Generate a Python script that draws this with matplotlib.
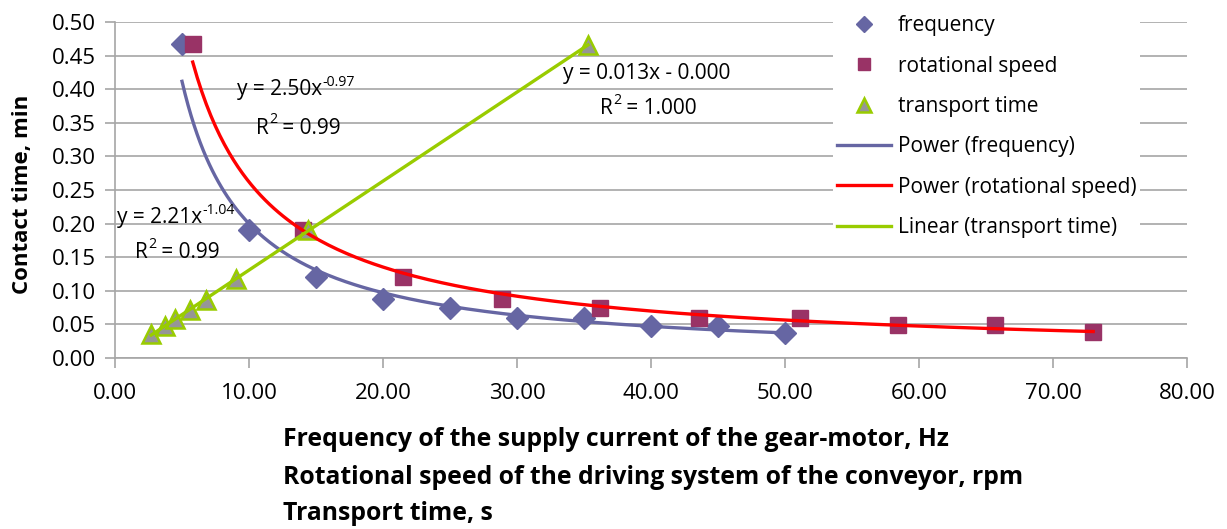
import numpy as np
import matplotlib
matplotlib.use("Agg")
import matplotlib.pyplot as plt

plt.rcParams['font.family'] = ['Open Sans', 'DejaVu Sans']

# frequency of the supply current, Hz
freq_x = [5, 10, 15, 20, 25, 30, 35, 40, 45, 50]
freq_y = [0.467, 0.19, 0.12, 0.088, 0.075, 0.059, 0.059, 0.047, 0.048, 0.037]

# rotational speed of the driving system, rpm
rot_x = [5.8, 14.0, 21.5, 28.9, 36.2, 43.6, 51.1, 58.4, 65.7, 73.0]
rot_y = [0.467, 0.19, 0.12, 0.088, 0.075, 0.06, 0.06, 0.049, 0.049, 0.038]

# transport time, s
tr_x = [2.7, 3.7, 4.5, 5.6, 6.8, 9.0, 14.4, 35.3]
tr_y = [0.036, 0.048, 0.058, 0.072, 0.086, 0.117, 0.19, 0.466]

x_ticks = np.arange(0, 81, 10)
y_ticks = np.arange(0, 0.501, 0.05)

c_freq = '#6666A3'
c_rot = '#993366'
c_red = '#FF0000'
c_green = '#99CC00'
c_grid = '#A6A6A6'

fig = plt.figure(figsize=(12.27, 5.29), dpi=100)
ax = fig.add_axes([115 / 1227, 1 - 358 / 529, (1187 - 115) / 1227, 336 / 529])

ax.set_xlim(0, 80)
ax.set_ylim(0, 0.5)
ax.set_xticks(x_ticks)
ax.set_yticks(y_ticks)
ax.set_xticklabels([f'{v:.2f}' for v in x_ticks])
ax.set_yticklabels([f'{v:.2f}' for v in y_ticks])
ax.yaxis.grid(True, color=c_grid, lw=1.2)
ax.set_axisbelow(True)
for s in ['top', 'right']:
    ax.spines[s].set_visible(False)
for s in ['left', 'bottom']:
    ax.spines[s].set_color(c_grid)
    ax.spines[s].set_linewidth(1.2)
ax.tick_params(axis='both', colors=c_grid, length=7, width=1.2, labelsize=16,
               labelcolor='black')
ax.tick_params(axis='x', pad=11)
ax.tick_params(axis='y', pad=7)

# markers
ax.plot(freq_x, freq_y, 'D', color=c_freq, ms=11, ls='none', label='frequency', zorder=3)
ax.plot(rot_x, rot_y, 's', color=c_rot, ms=12, ls='none', label='rotational speed', zorder=3)
ax.plot(tr_x, tr_y, '^', mfc='#969696', mec=c_green, mew=1.8, ms=13, ls='none',
        label='transport time', zorder=3)

# trend lines (fitted from the points)
b1, a1 = np.polyfit(np.log(freq_x), np.log(freq_y), 1)
xs = np.linspace(min(freq_x), max(freq_x), 200)
ax.plot(xs, np.exp(a1) * xs ** b1, color=c_freq, lw=2.4, label='Power (frequency)', zorder=4)

b2, a2 = np.polyfit(np.log(rot_x), np.log(rot_y), 1)
xs = np.linspace(min(rot_x), max(rot_x), 200)
ax.plot(xs, np.exp(a2) * xs ** b2, color=c_red, lw=2.4, label='Power (rotational speed)', zorder=4)

k, c = np.polyfit(tr_x, tr_y, 1)
xs = np.array([min(tr_x), max(tr_x)])
ax.plot(xs, k * xs + c, color=c_green, lw=2.4, label='Linear (transport time)', zorder=4)

# trendline equations, superscripts placed after the measured base text
fs = 15
renderer = fig.canvas.get_renderer()


def eq(x, y, base, sup=None, rest=None):
    t = fig.text(x / 1227, 1 - y / 529, base, fontsize=fs, va='center')
    if sup:
        bb = t.get_window_extent(renderer)
        s = fig.text(bb.x1 / 1227 + 0.5 / 1227, 1 - (y - 8) / 529, sup,
                     fontsize=fs * 0.68, va='center')
        if rest:
            bb2 = s.get_window_extent(renderer)
            fig.text(bb2.x1 / 1227, 1 - y / 529, rest, fontsize=fs, va='center')


eq(237, 90, 'y = 2.50x', '-0.97')
eq(256, 128, 'R', '2', ' = 0.99')
eq(117, 218, 'y = 2.21x', '-1.04')
eq(135, 253, 'R', '2', ' = 0.99')
eq(563, 73, 'y = 0.013x - 0.000')
eq(600, 108, 'R', '2', ' = 1.000')

leg = ax.legend(loc='upper left', bbox_to_anchor=(833 / 1227, 1 - 11 / 529),
                bbox_transform=fig.transFigure, fontsize=15, frameon=True,
                facecolor='white', edgecolor='none', framealpha=1, fancybox=False,
                numpoints=1, handlelength=2.6, handletextpad=0.3, labelspacing=0.93,
                borderpad=0.2, borderaxespad=0, markerscale=0.75)

fig.text(23 / 1227, 1 - 194 / 529, 'Contact time, min', rotation=90, fontsize=16,
         fontweight='bold', ha='center', va='center')
for yy, s in [(440, 'Frequency of the supply current of the gear-motor, Hz'),
              (477, 'Rotational speed of the driving system of the conveyor, rpm'),
              (513, 'Transport time, s')]:
    fig.text(283 / 1227, 1 - yy / 529, s, fontsize=17.8, fontweight='bold',
             ha='left', va='center')

fig.savefig('out.png', dpi=100)
